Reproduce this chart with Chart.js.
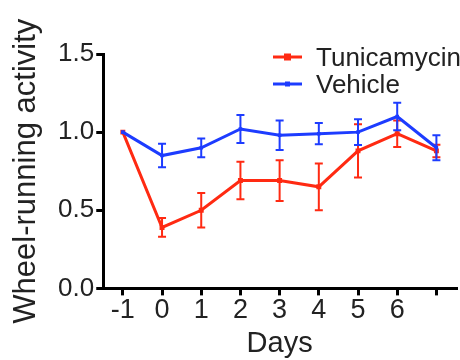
<!DOCTYPE html>
<html>
<head>
<meta charset="utf-8">
<script src="https://cdn.jsdelivr.net/npm/chart.js@4.4.1/dist/chart.umd.min.js"></script>
<style>
  html, body { margin: 0; padding: 0; background: #fff; }
  #wrap { width: 460px; height: 360px; }
</style>
</head>
<body>
<div id="wrap"><canvas id="grafico" width="460" height="360"></canvas></div>
<script>
// dias do experimento (o último ponto não tem rótulo no eixo)
const dias = [-1, 0, 1, 2, 3, 4, 5, 6, 7];
const rotulosDias = ['-1', '0', '1', '2', '3', '4', '5', '6', ''];
const ticksY = [0, 0.5, 1.0, 1.5];

const tunicamycin = [1.0, 0.39, 0.50, 0.69, 0.69, 0.65, 0.88, 0.99, 0.88];
const tunicamycinErro = [0.0, 0.06, 0.11, 0.12, 0.13, 0.15, 0.17, 0.085, 0.04];
const vehicle = [1.0, 0.85, 0.90, 1.02, 0.98, 0.99, 1.0, 1.10, 0.90];
const vehicleErro = [0.0, 0.075, 0.06, 0.09, 0.095, 0.068, 0.083, 0.088, 0.08];

const VERMELHO = '#ff2a12';
const AZUL = '#1d3cff';
const FONTE = '"Liberation Sans", Arial, sans-serif';

function pontos(valores) {
    return dias.map((d, i) => ({ x: d, y: valores[i] }));
}

// barras de erro desenhadas logo depois de cada série
const barrasDeErro = {
    id: 'barrasDeErro',
    afterDatasetDraw(chart, args) {
        const ds = chart.data.datasets[args.index];
        if (!ds.erros) return;
        const ctx = chart.ctx;
        const y = chart.scales.y;
        ctx.save();
        ctx.strokeStyle = ds.borderColor;
        ctx.lineWidth = 2;
        args.meta.data.forEach((p, i) => {
            const e = ds.erros[i];
            if (!e) return;
            const v = ds.data[i].y;
            const topo = y.getPixelForValue(v + e);
            const base = y.getPixelForValue(v - e);
            ctx.beginPath();
            ctx.moveTo(p.x, topo); ctx.lineTo(p.x, base);
            ctx.moveTo(p.x - 4, topo); ctx.lineTo(p.x + 4, topo);
            ctx.moveTo(p.x - 4, base); ctx.lineTo(p.x + 4, base);
            ctx.stroke();
        });
        ctx.restore();
    }
};

// legenda desenhada dentro da área do gráfico, no canto superior direito
const legendaInterna = {
    id: 'legendaInterna',
    afterDraw(chart) {
        const ctx = chart.ctx;
        const itens = [chart.data.datasets[0], chart.data.datasets[1]];
        ctx.save();
        ctx.font = '26px ' + FONTE;
        ctx.textBaseline = 'alphabetic';
        itens.forEach((ds, i) => {
            const yy = 57 + i * 27;
            ctx.strokeStyle = ds.borderColor;
            ctx.lineWidth = 3;
            ctx.beginPath();
            ctx.moveTo(273, yy); ctx.lineTo(302, yy);
            ctx.stroke();
            ctx.fillStyle = ds.borderColor;
            const r = ds.pointRadius;
            ctx.fillRect(287.5 - r, yy - r, r * 2, r * 2);
            ctx.fillStyle = '#222';
            ctx.fillText(ds.label, 316, yy + 9);
        });
        ctx.restore();
    }
};

new Chart(document.getElementById('grafico'), {
    type: 'line',
    data: {
        datasets: [
            {
                label: 'Tunicamycin',
                data: pontos(tunicamycin),
                erros: tunicamycinErro,
                borderColor: VERMELHO,
                backgroundColor: VERMELHO,
                borderWidth: 3,
                pointStyle: 'rect',
                pointRadius: 3.5,
                pointBorderWidth: 0,
                tension: 0,
                order: 1
            },
            {
                label: 'Vehicle',
                data: pontos(vehicle),
                erros: vehicleErro,
                borderColor: AZUL,
                backgroundColor: AZUL,
                borderWidth: 3,
                pointStyle: 'rect',
                pointRadius: 2.5,
                pointBorderWidth: 0,
                tension: 0,
                order: 0
            }
        ]
    },
    options: {
        responsive: false,
        animation: false,
        layout: { padding: { left: 9, right: 3, top: 54, bottom: 0 } },
        plugins: { legend: { display: false }, tooltip: { enabled: false } },
        scales: {
            x: {
                type: 'linear',
                min: -1.5,
                max: 7.5,
                afterBuildTicks: (axis) => { axis.ticks = dias.map(v => ({ value: v })); },
                ticks: {
                    autoSkip: false,
                    maxRotation: 0,
                    padding: 0,
                    color: '#222',
                    font: { family: FONTE, size: 27, lineHeight: 1.1 },
                    callback: (v) => rotulosDias[dias.indexOf(v)]
                },
                grid: { drawOnChartArea: false, drawTicks: true, tickLength: 7, color: '#000', lineWidth: 3 },
                border: { display: true, color: '#000', width: 3 },
                title: { display: true, text: 'Days', color: '#222', padding: { top: 3, bottom: 0 }, font: { family: FONTE, size: 29, lineHeight: 1.1 } }
            },
            y: {
                min: 0,
                max: 1.5,
                afterBuildTicks: (axis) => { axis.ticks = ticksY.map(v => ({ value: v })); },
                ticks: {
                    padding: 2,
                    color: '#222',
                    font: { family: FONTE, size: 26 },
                    callback: (v) => v.toFixed(1)
                },
                grid: { drawOnChartArea: false, drawTicks: true, tickLength: 7, color: '#000', lineWidth: 3 },
                border: { display: true, color: '#000', width: 3 },
                title: { display: true, text: 'Wheel-running activity', color: '#222', padding: { top: 0, bottom: 13 }, font: { family: FONTE, size: 31, lineHeight: 1.1 } }
            }
        }
    },
    plugins: [barrasDeErro, legendaInterna]
});
</script>
</body>
</html>
